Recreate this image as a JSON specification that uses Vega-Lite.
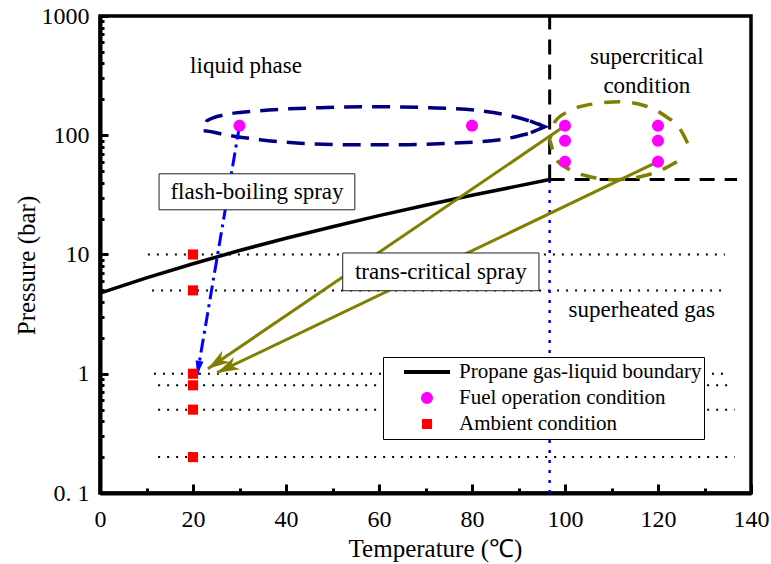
{
  "$schema": "https://vega.github.io/schema/vega-lite/v6.json",
  "width": 651,
  "height": 477,
  "autosize": {"type": "none"},
  "padding": {"left": 100, "top": 16, "right": 20, "bottom": 71},
  "background": "white",
  "config": {
    "view": {"stroke": "black", "strokeWidth": 3.5},
    "font": "Liberation Serif",
    "axis": {"labelFont": "Liberation Serif", "titleFont": "Liberation Serif", "labelColor": "black", "titleColor": "black", "titleFontWeight": "normal", "domainColor": "black", "tickColor": "black", "grid": false},
    "text": {"font": "Liberation Serif"}
  },
  "resolve": {"axis": {"x": "independent", "y": "independent"}},
  "encoding": {
    "x": {"field": "T", "type": "quantitative", "scale": {"domain": [0, 140], "nice": false}, "axis": null},
    "y": {"field": "P", "type": "quantitative", "scale": {"type": "log", "domain": [0.1, 1000], "nice": false}, "axis": null}
  },
  "layer": [
    {
      "data": {"values": [
        {"T": 10.3, "T2": 134.4, "P": 10},
        {"T": 11.2, "T2": 134.8, "P": 5},
        {"T": 11.6, "T2": 135.3, "P": 1},
        {"T": 12.5, "T2": 135.3, "P": 0.8},
        {"T": 12.5, "T2": 136.5, "P": 0.5},
        {"T": 12.5, "T2": 136.5, "P": 0.2}
      ]},
      "mark": {"type": "rule", "color": "black", "strokeWidth": 2, "strokeDash": [2, 7]},
      "encoding": {
        "x": {"field": "T", "type": "quantitative", "scale": {"domain": [0, 140], "nice": false},
              "axis": {"orient": "bottom", "values": [10, 30, 50, 70, 90, 110, 130], "tickSize": -5, "tickWidth": 3, "labels": false, "domain": false, "title": null}},
        "x2": {"field": "T2"},
        "y": {"field": "P", "type": "quantitative", "scale": {"type": "log", "domain": [0.1, 1000], "nice": false},
              "axis": {"orient": "left", "values": [0.2, 0.3, 0.4, 0.5, 0.6, 0.7, 0.8, 0.9, 2, 3, 4, 5, 6, 7, 8, 9, 20, 30, 40, 50, 60, 70, 80, 90, 200, 300, 400, 500, 600, 700, 800, 900], "tickSize": -4, "tickWidth": 3, "labels": false, "domain": false, "title": null}}
      }
    },
    {
      "data": {"values": [{"T": 96.7, "P": 0.1, "P2": 42.5}]},
      "mark": {"type": "rule", "color": "#0000ff", "strokeWidth": 2.5, "strokeDash": [3, 7]},
      "encoding": {"y2": {"field": "P2"}}
    },
    {
      "data": {"values": [{"T": 96.7, "P": 42.5, "P2": 1000}]},
      "mark": {"type": "rule", "color": "black", "strokeWidth": 3, "strokeDash": [15, 10]},
      "encoding": {"y2": {"field": "P2"}}
    },
    {
      "data": {"values": [{"T": 96.7, "T2": 137, "P": 42.5}]},
      "mark": {"type": "rule", "color": "black", "strokeWidth": 3, "strokeDash": [15, 10]},
      "encoding": {"x2": {"field": "T2"}}
    },
    {
      "data": {"values": [
        {"T": 0, "P": 4.74}, {"T": 10, "P": 6.36}, {"T": 20, "P": 8.36}, {"T": 30, "P": 10.8},
        {"T": 40, "P": 13.7}, {"T": 50, "P": 17.1}, {"T": 60, "P": 21.2}, {"T": 70, "P": 25.9},
        {"T": 80, "P": 31.4}, {"T": 90, "P": 37.6}, {"T": 96.7, "P": 42.5}
      ]},
      "mark": {"type": "line", "color": "black", "strokeWidth": 3.5},
      "encoding": {
        "x": {"field": "T", "type": "quantitative", "scale": {"domain": [0, 140], "nice": false},
              "axis": {"orient": "bottom", "values": [0, 20, 40, 60, 80, 100, 120, 140], "format": "d", "tickSize": -9, "tickWidth": 3, "domainWidth": 4, "labelFontSize": 24, "labelPadding": 23, "labelFlush": false, "title": "Temperature (℃)", "titleFontSize": 25, "titlePadding": 5, "titleX": 335}},
        "y": {"field": "P", "type": "quantitative", "scale": {"type": "log", "domain": [0.1, 1000], "nice": false},
              "axis": {"orient": "left", "values": [0.1, 1, 10, 100, 1000], "labelExpr": "datum.value < 0.5 ? '0. 1' : format(datum.value, 'd')", "tickSize": -8, "tickWidth": 3, "domainWidth": 4, "labelFontSize": 24, "labelPadding": 19, "labelFlush": false, "title": "Pressure (bar)", "titleFontSize": 25, "titlePadding": 2, "titleY": 249}}
      }
    },
    {
      "data": {"values": [
        {"i": 0, "T": 92.02, "P": 102.9}, {"i": 1, "T": 86.0, "P": 91.7}, {"i": 2, "T": 75.25, "P": 85.7},
        {"i": 3, "T": 64.5, "P": 83.2}, {"i": 4, "T": 53.75, "P": 83.2}, {"i": 5, "T": 43.0, "P": 85.7},
        {"i": 6, "T": 34.4, "P": 91.7}, {"i": 7, "T": 26.88, "P": 101.0}, {"i": 8, "T": 22.15, "P": 109.1},
        {"i": 9, "T": 23.01, "P": 132.3}, {"i": 10, "T": 26.88, "P": 148.5}, {"i": 11, "T": 34.4, "P": 160.6},
        {"i": 12, "T": 47.3, "P": 170.1}, {"i": 13, "T": 59.13, "P": 173.4}, {"i": 14, "T": 70.95, "P": 170.1},
        {"i": 15, "T": 81.7, "P": 160.6}, {"i": 16, "T": 89.23, "P": 142.9}, {"i": 17, "T": 94.82, "P": 122.5}
      ]},
      "mark": {"type": "line", "color": "#000080", "strokeWidth": 3.5, "strokeDash": [18, 10], "interpolate": "monotone"},
      "encoding": {"order": {"field": "i", "type": "quantitative"}}
    },
    {
      "data": {"values": [
        {"i": 0, "T": 92.45, "P": 132.3}, {"i": 1, "T": 95.68, "P": 117.8}, {"i": 2, "T": 92.67, "P": 105.0}
      ]},
      "mark": {"type": "line", "color": "#000080", "strokeWidth": 3.5},
      "encoding": {"order": {"field": "i", "type": "quantitative"}}
    },
    {
      "data": {"values": [
        {"i": 0, "T": 124.06, "P": 59.95}, {"i": 1, "T": 120.4, "P": 50.4}, {"i": 2, "T": 116.1, "P": 44.9},
        {"i": 3, "T": 110.73, "P": 42.36}, {"i": 4, "T": 105.35, "P": 44.9}, {"i": 5, "T": 101.05, "P": 51.4},
        {"i": 6, "T": 97.83, "P": 64.8}, {"i": 7, "T": 96.54, "P": 91.7}, {"i": 8, "T": 97.83, "P": 129.8},
        {"i": 9, "T": 101.05, "P": 160.6}, {"i": 10, "T": 106.43, "P": 183.8}, {"i": 11, "T": 111.8, "P": 191.0},
        {"i": 12, "T": 117.18, "P": 176.8}, {"i": 13, "T": 121.48, "P": 145.7}, {"i": 14, "T": 124.7, "P": 113.4},
        {"i": 15, "T": 126.85, "P": 78.6}
      ]},
      "mark": {"type": "line", "color": "#808000", "strokeWidth": 3.5, "strokeDash": [16, 12], "interpolate": "monotone"},
      "encoding": {"order": {"field": "i", "type": "quantitative"}}
    },
    {
      "data": {"values": [
        {"id": 1, "i": 0, "T": 100, "P": 120}, {"id": 1, "i": 1, "T": 23.2, "P": 1.1},
        {"id": 2, "i": 0, "T": 120, "P": 60}, {"id": 2, "i": 1, "T": 25.2, "P": 1.02}
      ]},
      "mark": {"type": "line", "color": "#808000", "strokeWidth": 3},
      "encoding": {"detail": {"field": "id", "type": "nominal"}, "order": {"field": "i", "type": "quantitative"}}
    },
    {
      "data": {"values": [{"T": 23.2, "P": 1.1}]},
      "mark": {"type": "point", "shape": "M0,0L0.5,1.6L0,1.15L-0.5,1.6Z", "filled": true, "opacity": 1, "color": "#808000", "size": 756, "angle": 235.9}
    },
    {
      "data": {"values": [{"T": 25.2, "P": 1.02}]},
      "mark": {"type": "point", "shape": "M0,0L0.5,1.6L0,1.15L-0.5,1.6Z", "filled": true, "opacity": 1, "color": "#808000", "size": 756, "angle": 244.0}
    },
    {
      "data": {"values": [{"i": 0, "T": 30, "P": 120}, {"i": 1, "T": 20.9, "P": 0.98}]},
      "mark": {"type": "line", "color": "#0000ff", "strokeWidth": 3, "strokeDash": [14, 5, 3, 5]},
      "encoding": {"order": {"field": "i", "type": "quantitative"}}
    },
    {
      "data": {"values": [{"T": 20.9, "P": 0.98}]},
      "mark": {"type": "point", "shape": "M0,0L0.45,1.6L-0.45,1.6Z", "filled": true, "opacity": 1, "color": "#0000ff", "size": 306, "angle": 189.8}
    },
    {
      "data": {"values": [
        {"series": "Fuel operation condition", "T": 30, "P": 120},
        {"series": "Fuel operation condition", "T": 80, "P": 120},
        {"series": "Fuel operation condition", "T": 100, "P": 120},
        {"series": "Fuel operation condition", "T": 100, "P": 90},
        {"series": "Fuel operation condition", "T": 100, "P": 60},
        {"series": "Fuel operation condition", "T": 120, "P": 120},
        {"series": "Fuel operation condition", "T": 120, "P": 90},
        {"series": "Fuel operation condition", "T": 120, "P": 60},
        {"series": "Ambient condition", "T": 20, "P": 10},
        {"series": "Ambient condition", "T": 20, "P": 5},
        {"series": "Ambient condition", "T": 20, "P": 1},
        {"series": "Ambient condition", "T": 20, "P": 0.8},
        {"series": "Ambient condition", "T": 20, "P": 0.5},
        {"series": "Ambient condition", "T": 20, "P": 0.2}
      ]},
      "mark": {"type": "point", "filled": true, "opacity": 1, "size": 2116},
      "encoding": {
        "color": {"field": "series", "type": "nominal",
          "scale": {"domain": ["Propane gas-liquid boundary", "Fuel operation condition", "Ambient condition"], "range": ["black", "#ff00ff", "#ff0000"]},
          "legend": {"title": null, "orient": "none", "legendX": 283, "legendY": 341, "fillColor": "white", "strokeColor": "black", "padding": 2, "clipHeight": 26, "rowPadding": 0, "symbolSize": 2116, "symbolStrokeWidth": 0, "symbolOffset": 19, "labelOffset": 9, "labelFont": "Liberation Serif", "labelFontSize": 21, "labelColor": "black", "labelLimit": 400,
            "labelExpr": "datum.label + '\u2002'"}},
        "shape": {"field": "series", "type": "nominal",
          "scale": {"domain": ["Propane gas-liquid boundary", "Fuel operation condition", "Ambient condition"], "range": ["M-1,-0.085H1V0.085H-1Z", "M-0.26,0A0.26,0.26,0,1,0,0.26,0A0.26,0.26,0,1,0,-0.26,0Z", "M-0.22,-0.22H0.22V0.22H-0.22Z"]},
          "legend": {"title": null, "orient": "none", "legendX": 283, "legendY": 341, "fillColor": "white", "strokeColor": "black", "padding": 2, "clipHeight": 26, "rowPadding": 0, "symbolSize": 2116, "symbolStrokeWidth": 0, "symbolOffset": 19, "labelOffset": 9, "labelFont": "Liberation Serif", "labelFontSize": 21, "labelColor": "black", "labelLimit": 400,
            "labelExpr": "datum.label + '\u2002'"}}
      }
    },
    {
      "data": {"values": [
        {"T": 12.7, "T2": 54.8, "P": 47.5, "P2": 23.7},
        {"T": 52.2, "T2": 94.4, "P": 10.3, "P2": 4.97}
      ]},
      "mark": {"type": "rect", "fill": "white", "stroke": "#222222", "strokeWidth": 1},
      "encoding": {"x2": {"field": "T2"}, "y2": {"field": "P2"}}
    },
    {
      "data": {"values": [
        {"T": 31.4, "P": 383, "label": "liquid phase"},
        {"T": 117.6, "P": 455, "label": "supercritical"},
        {"T": 117.6, "P": 260, "label": "condition"},
        {"T": 116.5, "P": 3.44, "label": "superheated gas"},
        {"T": 33.76, "P": 33.6, "label": "flash-boiling spray"},
        {"T": 73.3, "P": 7.17, "label": "trans-critical spray"}
      ]},
      "mark": {"type": "text", "font": "Liberation Serif", "fontSize": 23, "color": "black", "baseline": "middle", "align": "center"},
      "encoding": {"text": {"field": "label", "type": "nominal"}}
    }
  ]
}
